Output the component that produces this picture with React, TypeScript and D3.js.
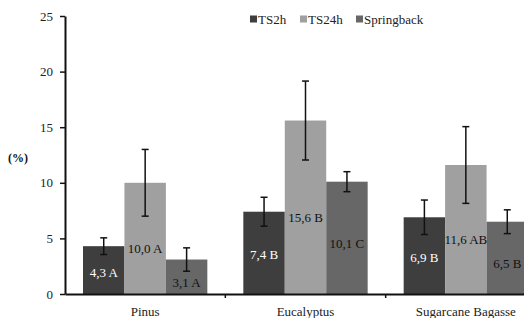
import React, { useRef, useEffect } from "react";
import * as d3 from "d3";

const categories = ["Pinus", "Eucalyptus", "Sugarcane Bagasse"];
const seriesNames = ["TS2h", "TS24h", "Springback"];
const ts2h = [4.3, 7.4, 6.9];
const ts24h = [10.0, 15.6, 11.6];
const springback = [3.1, 10.1, 6.5];
const ts2hErr = [0.75, 1.3, 1.55];
const ts24hErr = [3.0, 3.55, 3.45];
const springbackErr = [1.05, 0.9, 1.07];
const ts2hLabels = ["4,3 A", "7,4 B", "6,9 B"];
const ts24hLabels = ["10,0 A", "15,6 B", "11,6 AB"];
const springbackLabels = ["3,1 A", "10,1 C", "6,5 B"];
const yTicks = [0, 5, 10, 15, 20, 25];

const colors = ["#3e3e3e", "#a0a0a0", "#676767"];
const labelColors = ["#ffffff", "#111111", "#111111"];
const labelShift = [2, 10, 6];

const W = 524;
const H = 318;
const FONT = "'Liberation Serif', 'Times New Roman', serif";

const App = () => {
  const ref = useRef(null);

  useEffect(() => {
    const svg = d3.select(ref.current);
    svg.selectAll("*").remove();

    const left = 65;
    const bottom = 294;
    const top = 16;

    // scales
    const x = d3.scaleBand().domain(categories).range([left, 546]).paddingInner(0).paddingOuter(0);
    const inner = d3.scaleBand().domain(seriesNames).range([18, x.bandwidth() - 18]).padding(0);
    const y = d3.scaleLinear().domain([0, 25]).range([bottom, top]);

    const values = [ts2h, ts24h, springback];
    const errs = [ts2hErr, ts24hErr, springbackErr];
    const labels = [ts2hLabels, ts24hLabels, springbackLabels];

    const rows = [];
    seriesNames.forEach((s, si) => {
      categories.forEach((c, ci) => {
        rows.push({ s, si, c, v: values[si][ci], e: errs[si][ci], label: labels[si][ci] });
      });
    });

    const bx = (d) => x(d.c) + inner(d.s);

    // bars
    svg
      .append("g")
      .selectAll("rect")
      .data(rows)
      .join("rect")
      .attr("x", bx)
      .attr("y", (d) => y(d.v))
      .attr("width", inner.bandwidth())
      .attr("height", (d) => bottom - y(d.v))
      .attr("fill", (d) => colors[d.si]);

    // labels
    svg
      .append("g")
      .selectAll("text")
      .data(rows)
      .join("text")
      .attr("x", (d) => bx(d) + inner.bandwidth() / 2)
      .attr("y", (d) => (y(d.v) + bottom) / 2 + labelShift[d.si])
      .attr("dy", "0.35em")
      .attr("text-anchor", "middle")
      .attr("font-family", FONT)
      .attr("font-size", 13)
      .attr("fill", (d) => labelColors[d.si])
      .text((d) => d.label);

    // error bars
    const eg = svg.append("g").attr("stroke", "#111").attr("stroke-width", 1.5);
    rows.forEach((d) => {
      const cx = bx(d) + inner.bandwidth() / 2;
      const y1 = y(d.v + d.e);
      const y2 = y(d.v - d.e);
      eg.append("line").attr("x1", cx).attr("x2", cx).attr("y1", y1).attr("y2", y2);
      eg.append("line").attr("x1", cx - 3.5).attr("x2", cx + 3.5).attr("y1", y1).attr("y2", y1);
      eg.append("line").attr("x1", cx - 3.5).attr("x2", cx + 3.5).attr("y1", y2).attr("y2", y2);
    });

    // y axis
    const yAxis = d3.axisLeft(y).tickValues(yTicks).tickSize(5).tickPadding(7).tickSizeOuter(0);
    const yg = svg.append("g").attr("transform", `translate(${left},0)`).call(yAxis);
    yg.select(".domain").attr("stroke", "#111").attr("stroke-width", 2);
    yg.selectAll(".tick line").attr("stroke", "#111").attr("stroke-width", 1.5);
    yg.selectAll(".tick text").attr("font-family", FONT).attr("font-size", 13).attr("fill", "#222");

    // x axis
    const xAxis = d3.axisBottom(x).tickSize(0).tickPadding(13);
    const xg = svg.append("g").attr("transform", `translate(0,${bottom})`).call(xAxis);
    xg.select(".domain").attr("stroke", "#111").attr("stroke-width", 2);
    xg.selectAll(".tick text").attr("font-family", FONT).attr("font-size", 13).attr("fill", "#222");
    xg.selectAll(".sep")
      .data(categories.slice(1))
      .join("line")
      .attr("x1", (c) => x(c))
      .attr("x2", (c) => x(c))
      .attr("y1", 0)
      .attr("y2", 4)
      .attr("stroke", "#111")
      .attr("stroke-width", 1.5);

    // y title
    svg
      .append("text")
      .attr("x", 8)
      .attr("y", 158)
      .attr("dy", "0.35em")
      .attr("font-family", FONT)
      .attr("font-size", 12)
      .attr("font-weight", "bold")
      .attr("fill", "#111")
      .text("(%)");

    // legend
    const legendX = [250, 300, 356];
    const lg = svg.append("g");
    seriesNames.forEach((s, i) => {
      lg.append("rect").attr("x", legendX[i]).attr("y", 15.5).attr("width", 7).attr("height", 7).attr("fill", colors[i]);
      lg.append("text")
        .attr("x", legendX[i] + 8)
        .attr("y", 19)
        .attr("dy", "0.35em")
        .attr("font-family", FONT)
        .attr("font-size", 13)
        .attr("fill", "#222")
        .text(s);
    });
  }, []);

  return (
    <div style={{ position: "absolute", left: 0, top: 0 }}>
      <svg ref={ref} width={W} height={H} style={{ background: "#fff", display: "block" }} />
    </div>
  );
};

export default App;
